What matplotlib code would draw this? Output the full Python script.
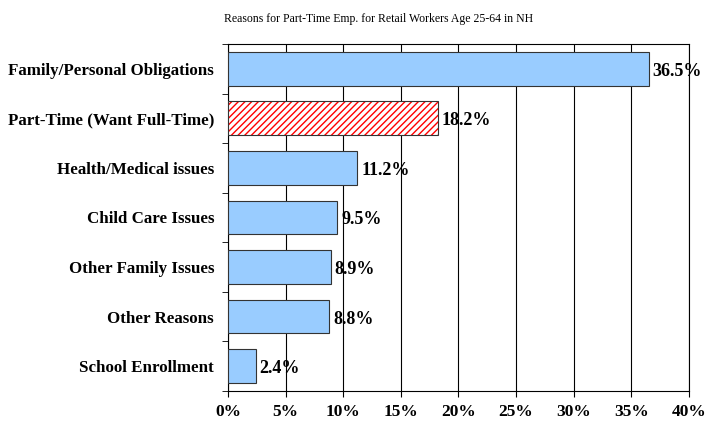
import matplotlib.pyplot as plt
import numpy as np

plt.rcParams['font.family'] = ['Liberation Serif', 'DejaVu Serif']

# données
categories = ["Family/Personal Obligations", "Part-Time (Want Full-Time)",
              "Health/Medical issues", "Child Care Issues",
              "Other Family Issues", "Other Reasons", "School Enrollment"]
values = [36.5, 18.2, 11.2, 9.5, 8.9, 8.8, 2.4]
value_labels = ["36.5%", "18.2%", "11.2%", "9.5%", "8.9%", "8.8%", "2.4%"]
xticks = [0, 5, 10, 15, 20, 25, 30, 35, 40]

fig = plt.figure(figsize=(7.07, 4.25), dpi=100)
ax = fig.add_axes([0.3225, 0.08, 0.652, 0.8165])

y = np.arange(len(categories))
colors = ["#99ccff"] * len(values)
bars = ax.barh(y, values, height=0.68, color=colors, edgecolor="#333333", linewidth=0.8, zorder=3)

# barre hachurée en rouge
i = 1
bars[i].set_facecolor("white")
bars[i].set_edgecolor("red")
bars[i].set_hatch("/////")
bars[i].set_linewidth(0)
ax.barh(y[i], values[i], height=0.68, fill=False, edgecolor="#333333", linewidth=0.8, zorder=4)

for yi, v, lab in zip(y, values, value_labels):
    ax.text(v + 0.35, yi + 0.05, lab, va="center", ha="left", fontsize=13, fontweight="bold")

ax.set_xlim(0, 40)
ax.set_ylim(len(categories) - 0.5, -0.5)
ax.set_xticks(xticks)
ax.set_xticklabels([f"{t}%" for t in xticks], fontsize=12.5, fontweight="bold")
ax.set_yticks(y)
ax.set_yticklabels(categories, fontsize=12.2, fontweight="bold")
ax.tick_params(axis="y", length=0, pad=10)
ax.set_yticks(np.arange(len(categories) + 1) - 0.5, minor=True)
ax.tick_params(axis="y", which="minor", length=4, color="black")
ax.tick_params(axis="x", length=4, color="black", pad=5)
ax.xaxis.grid(True, color="black", linewidth=0.8, zorder=0)
for s in ax.spines.values():
    s.set_color("black")
    s.set_linewidth(0.8)

fig.text(0.536, 0.955, "Reasons for Part-Time Emp. for Retail Workers Age 25-64 in NH",
         ha="center", va="center", fontsize=8.5)

fig.savefig("out.png", dpi=100)
